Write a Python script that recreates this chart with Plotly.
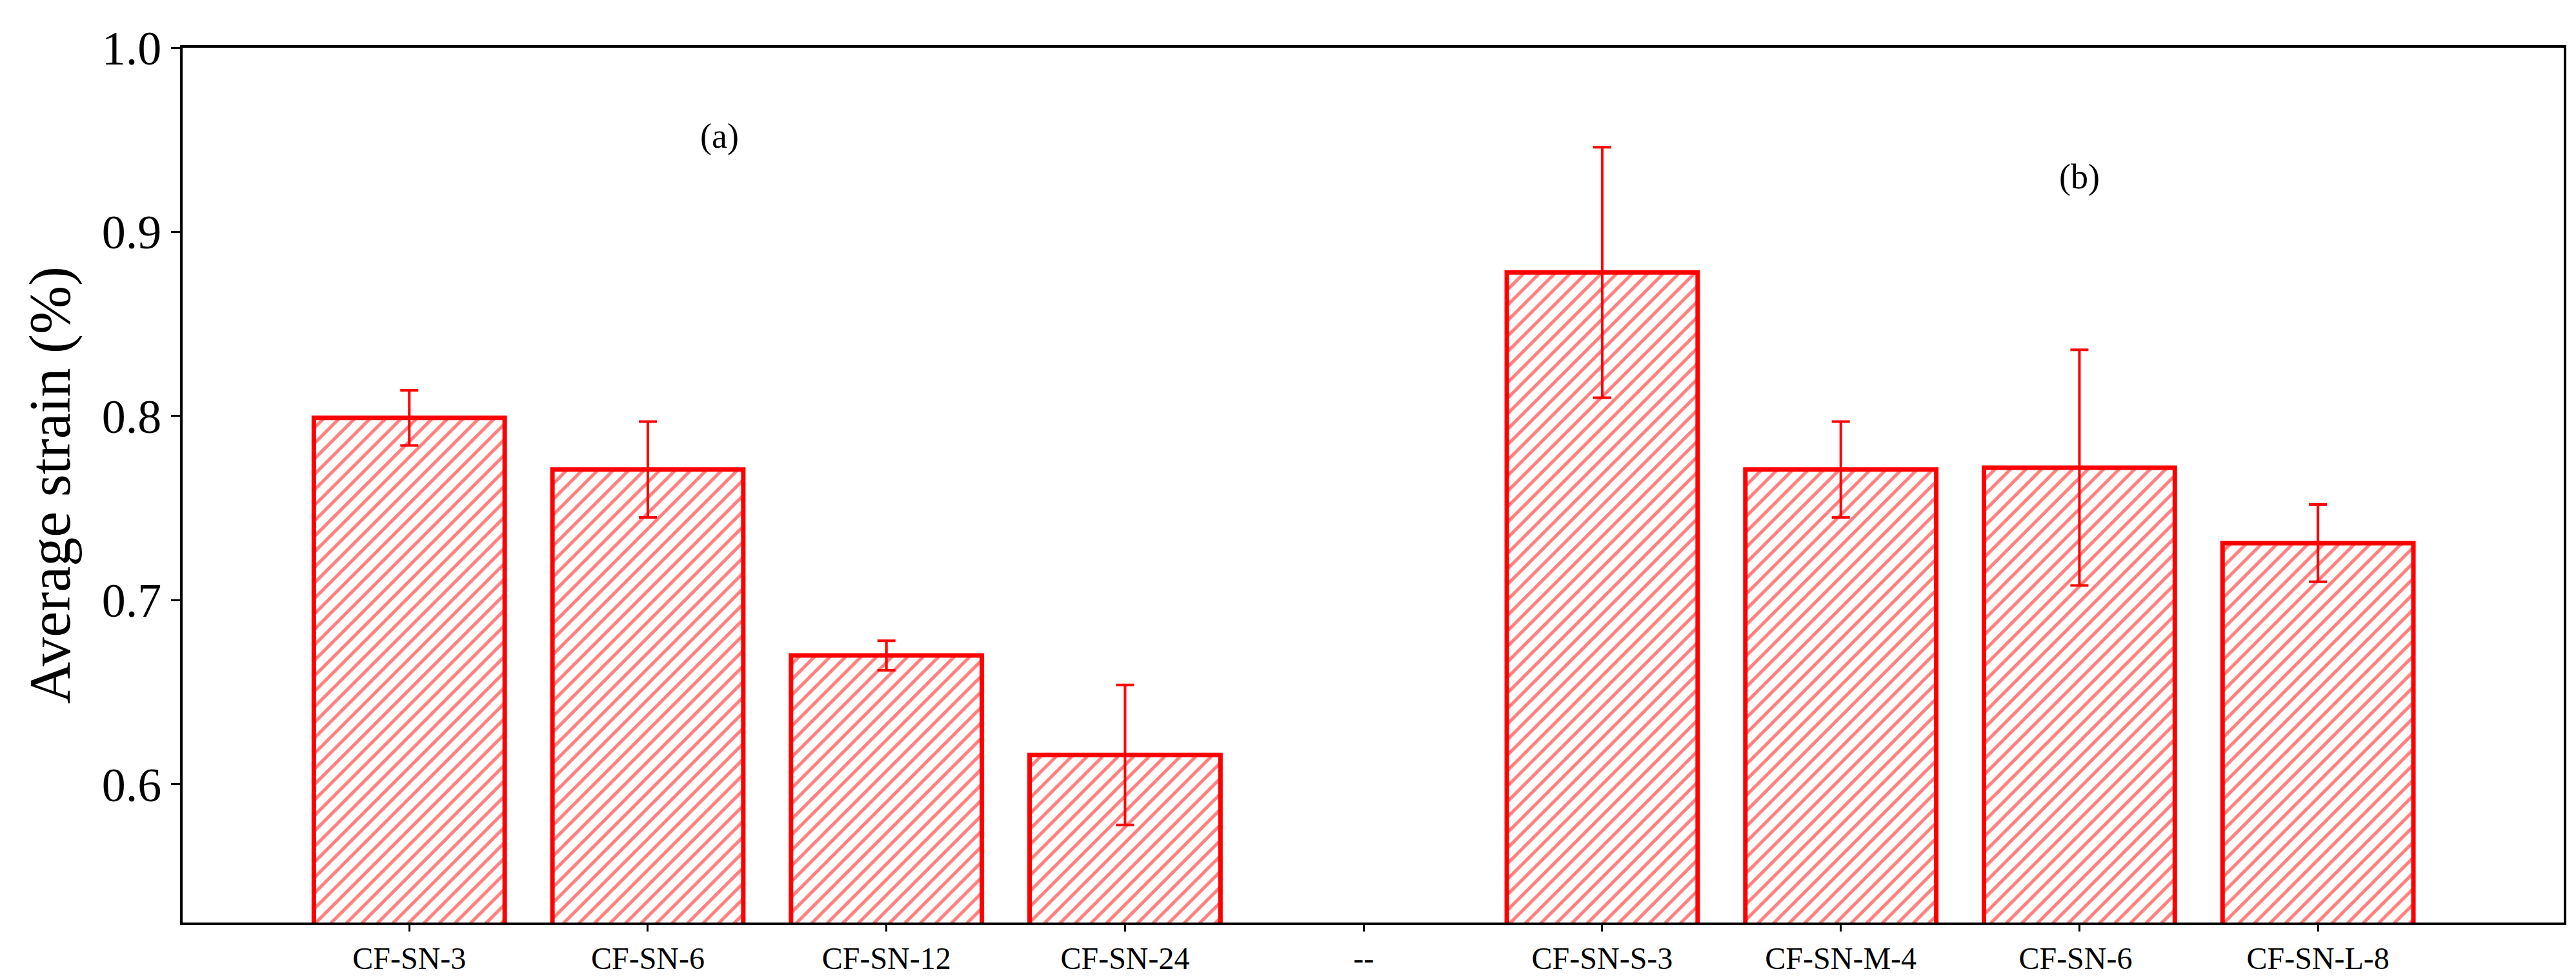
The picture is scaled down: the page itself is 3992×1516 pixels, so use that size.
import plotly.graph_objects as go

categories = ["CF-SN-3", "CF-SN-6", "CF-SN-12", "CF-SN-24", "--",
              "CF-SN-S-3", "CF-SN-M-4", "CF-SN-6 ", "CF-SN-L-8"]
values = [0.799, 0.771, 0.670, 0.616, None, 0.878, 0.771, 0.772, 0.731]
errors = [0.015, 0.026, 0.008, 0.038, None, 0.068, 0.026, 0.064, 0.021]

red = "#ff0000"
fig = go.Figure(go.Bar(
    x=categories, y=values,
    width=0.8,
    marker=dict(color="white", line=dict(color=red, width=7),
                pattern=dict(shape="/", fgcolor=red, bgcolor="white", size=17, solidity=0.3)),
    error_y=dict(type="data", array=errors, color=red, thickness=4, width=14),
))
font = "Liberation Serif, Times New Roman, serif"
fig.update_layout(
    width=3992, height=1516, plot_bgcolor="white", paper_bgcolor="white",
    margin=dict(l=275, r=27, t=66, b=88),
    font=dict(family=font, color="black"),
    showlegend=False,
    annotations=[
        dict(x=1.3, y=0.952, xref="x", yref="y", text="(a)", showarrow=False, font=dict(size=54)),
        dict(x=7.0, y=0.93, xref="x", yref="y", text="(b)", showarrow=False, font=dict(size=54)),
    ],
)
fig.update_xaxes(type="category", range=[-0.95, 9.03], showline=True, linecolor="black", linewidth=4,
                 mirror=True, ticks="outside", ticklen=10, tickwidth=3, tickcolor="black",
                 tickfont=dict(size=48))
fig.update_yaxes(range=[0.525, 1.0], dtick=0.1, tickformat=".1f", showline=True, linecolor="black",
                 linewidth=4, mirror=True, ticks="outside", ticklen=14, tickwidth=3, tickcolor="black",
                 showgrid=False, zeroline=False, tickfont=dict(size=74),
                 title=dict(text="Average strain (%)", font=dict(size=90), standoff=20))
fig.write_html("out.html")
